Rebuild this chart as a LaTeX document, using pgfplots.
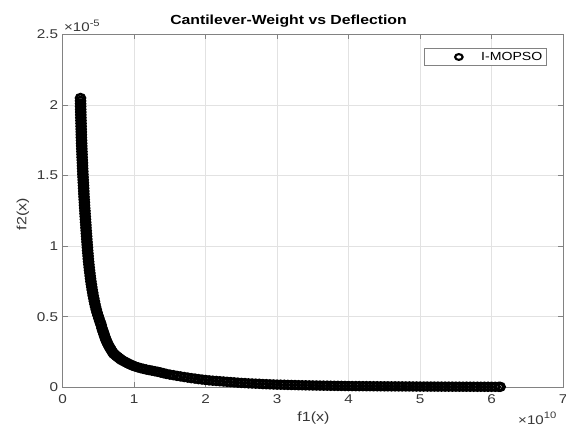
\documentclass[border=0pt]{standalone}
\usepackage{fontspec}
\setmainfont{Liberation Sans}[FakeStretch=1.2]
\usepackage{pgfplots}
\usepackage{pgfplotstable}
\pgfplotsset{compat=1.18}
\definecolor{axgray}{RGB}{130,130,130}
\definecolor{txtgray}{RGB}{55,55,55}
\definecolor{gridgray}{RGB}{226,226,226}

\pgfplotstableread{
x y
0.250 2.05
0.251 2.03
0.252 2.01
0.252 1.99
0.253 1.97
0.254 1.95
0.255 1.93
0.256 1.91
0.257 1.89
0.258 1.87
0.259 1.85
0.260 1.83
0.261 1.81
0.262 1.79
0.263 1.77
0.265 1.75
0.266 1.73
0.267 1.71
0.269 1.69
0.270 1.67
0.272 1.65
0.273 1.63
0.275 1.61
0.277 1.59
0.279 1.57
0.280 1.55
0.282 1.53
0.284 1.51
0.286 1.49
0.288 1.47
0.290 1.45
0.292 1.43
0.294 1.41
0.296 1.39
0.298 1.37
0.300 1.35
0.302 1.33
0.305 1.31
0.307 1.29
0.309 1.27
0.312 1.25
0.314 1.23
0.317 1.21
0.319 1.19
0.322 1.17
0.325 1.15
0.327 1.13
0.330 1.11
0.333 1.09
0.336 1.07
0.338 1.05
0.341 1.03
0.344 1.01
0.347 0.99
0.350 0.97
0.353 0.95
0.357 0.93
0.360 0.91
0.364 0.89
0.368 0.87
0.372 0.85
0.376 0.83
0.381 0.81
0.386 0.79
0.391 0.77
0.396 0.75
0.402 0.73
0.408 0.71
0.414 0.69
0.421 0.67
0.428 0.65
0.436 0.63
0.444 0.61
0.452 0.59
0.461 0.57
0.471 0.55
0.482 0.53
0.494 0.51
0.506 0.49
0.520 0.47
0.530 0.455
0.540 0.44
0.550 0.42
0.560 0.405
0.570 0.39
0.580 0.375
0.590 0.36
0.600 0.345
0.610 0.332
0.620 0.32
0.635 0.305
0.650 0.29
0.665 0.277
0.680 0.265
0.695 0.252
0.710 0.240
0.730 0.232
0.750 0.223
0.770 0.215
0.790 0.207
0.810 0.199
0.830 0.192
0.860 0.184
0.890 0.176
0.920 0.168
0.950 0.161
0.980 0.154
1.010 0.148
1.050 0.142
1.090 0.136
1.130 0.131
1.170 0.126
1.210 0.122
1.250 0.118
1.290 0.114
1.330 0.110
1.370 0.105
1.410 0.100
1.450 0.095
1.500 0.090
1.550 0.086
1.600 0.081
1.650 0.077
1.700 0.073
1.750 0.069
1.800 0.065
1.850 0.062
1.900 0.058
1.950 0.055
2.000 0.052
2.050 0.049
2.100 0.047
2.150 0.045
2.200 0.043
2.250 0.041
2.300 0.039
2.350 0.037
2.400 0.035
2.450 0.033
2.500 0.031
2.550 0.030
2.600 0.028
2.650 0.027
2.700 0.026
2.750 0.025
2.800 0.023
2.850 0.022
2.900 0.021
2.950 0.020
3.000 0.019
3.050 0.0185
3.100 0.018
3.150 0.017
3.200 0.0165
3.250 0.016
3.300 0.015
3.350 0.0145
3.400 0.014
3.450 0.0135
3.500 0.013
3.550 0.0126
3.600 0.0122
3.650 0.0118
3.700 0.0114
3.750 0.011
3.800 0.0106
3.850 0.0102
3.900 0.0098
3.950 0.0094
4.000 0.009
4.050 0.0088
4.100 0.0086
4.150 0.0084
4.200 0.0082
4.250 0.008
4.300 0.0078
4.350 0.0076
4.400 0.0074
4.450 0.0072
4.500 0.007
4.550 0.0069
4.600 0.0067
4.650 0.0066
4.700 0.0064
4.750 0.0063
4.800 0.0061
4.850 0.006
4.900 0.0058
4.950 0.0057
5.000 0.0055
5.050 0.0054
5.100 0.0053
5.150 0.0052
5.200 0.0051
5.250 0.005
5.300 0.0049
5.350 0.0048
5.400 0.0047
5.450 0.0046
5.500 0.0045
5.550 0.0044
5.600 0.0043
5.650 0.0043
5.700 0.0042
5.750 0.0041
5.800 0.004
5.850 0.004
5.900 0.0039
5.950 0.0038
6.000 0.0037
6.050 0.0036
6.100 0.0036
6.120 0.0035
}\paretodata

\begin{document}
\begin{tikzpicture}[x=1bp,y=1bp]
\useasboundingbox (0,0) rectangle (566,428);
\begin{axis}[
  at={(62.6bp,40.7bp)}, anchor=south west,
  scale only axis, width=500.5bp, height=352.8bp,
  xmin=0, xmax=7, ymin=0, ymax=2.5,
  xtick={0,1,2,3,4,5,6,7},
  ytick={0,0.5,1,1.5,2,2.5},
  yticklabels={0,0.5,1,1.5,2,2.5},
  /pgf/number format/assume math mode=true,
  tick label style={font=\fontsize{12.8}{13}\selectfont, text=txtgray},
  xticklabel style={yshift=-4bp},
  yticklabel style={xshift=-1bp},
  axis line style={axgray, line width=0.8bp},
  tick style={axgray, line width=0.6bp},
  tick align=inside, major tick length=5bp,
  xtick pos=both, ytick pos=both,
  grid=major, major grid style={gridgray, line width=0.6bp},
  clip=false,
  legend entries={I-MOPSO},
  legend style={at={(0.9672,0.9609)}, anchor=north east, draw=axgray,
    line width=0.7bp, font=\fontsize{11.8}{12}\selectfont, text=black,
    inner xsep=2bp, inner ysep=1.5bp},
  legend image code/.code={\path (-32bp,0) (20bp,0); \draw[#1, mark size=2.9bp, mark options={xscale=1.3, line width=2.1bp, draw=black}] plot coordinates {(0bp,0bp)};},
]
\addplot[only marks, mark=o, mark size=3.9bp,
  mark options={xscale=1.15, line width=2.6bp, draw=black}] table[x=x,y=y] {\paretodata};
\end{axis}
\node[font=\bfseries\fontsize{13.2}{14}\selectfont, anchor=center] at (288.5,406.5) {Cantilever-Weight vs Deflection};
\node[font=\fontsize{13.4}{14}\selectfont, anchor=center, text=txtgray] at (313.5,10) {f1(x)};
\node[font=\fontsize{13.4}{14}\selectfont, anchor=center, rotate=90, text=txtgray] at (23,214) {f2(x)};
\node[font=\fontsize{12.6}{13}\selectfont, anchor=base west, inner sep=0pt, text=txtgray] at (64,396) {×10\raisebox{0.45em}{\fontsize{9.4}{10}\selectfont -5}};
\node[font=\fontsize{12.6}{13}\selectfont, anchor=base west, inner sep=0pt, text=txtgray] at (518,4) {×10\raisebox{0.45em}{\fontsize{9.4}{10}\selectfont 10}};
\end{tikzpicture}
\end{document}
